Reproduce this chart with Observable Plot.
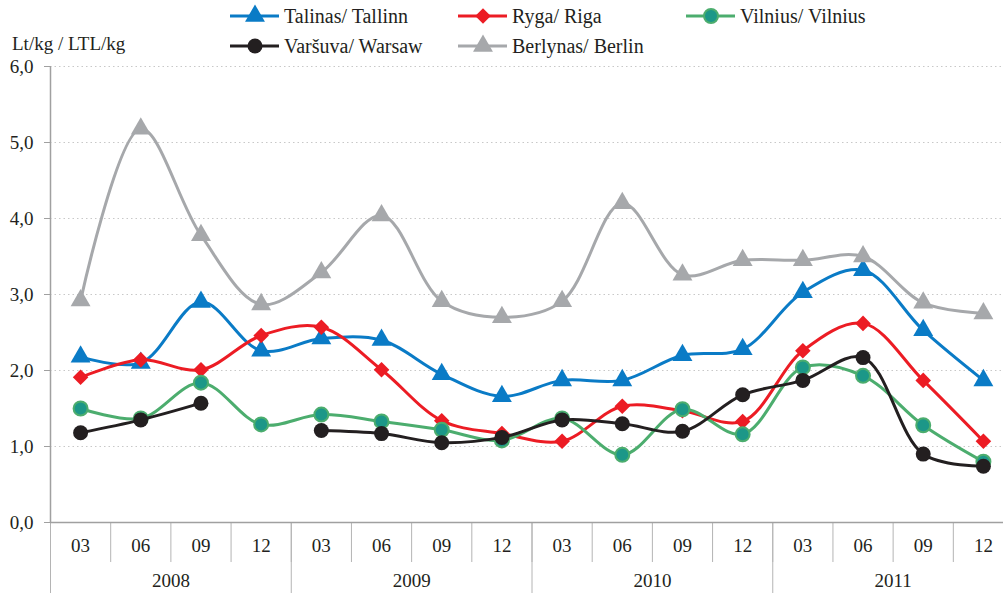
<!DOCTYPE html>
<html>
<head>
<meta charset="utf-8">
<script src="https://cdn.jsdelivr.net/npm/d3@7"></script>
<script src="https://cdn.jsdelivr.net/npm/@observablehq/plot@0.6"></script>
<style>
  html, body { margin: 0; padding: 0; background: #fff; }
  #wrap { position: relative; width: 1003px; height: 593px; overflow: hidden; font-family: "Liberation Serif", "Times New Roman", serif; color: #231f20; }
  #chart { position: absolute; left: 0; top: 0; }
  .ylabel { position: absolute; left: 12px; top: 33px; font-size: 19px; line-height: 22px; white-space: nowrap; }
  .leg { position: absolute; display: flex; align-items: center; font-size: 20px; white-space: nowrap; }
  .leg svg { margin-right: 4px; }
</style>
</head>
<body>
<div id="wrap">
  <div id="chart"></div>
  <div class="ylabel">Lt/kg / LTL/kg</div>
  <div id="legend"></div>
</div>
<script>
// ---- data ----
const months = ["03", "06", "09", "12", "03", "06", "09", "12", "03", "06", "09", "12", "03", "06", "09", "12"];
const years = ["2008", "2009", "2010", "2011"];
const seriesNames = ["Talinas/ Tallinn", "Ryga/ Riga", "Vilnius/ Vilnius", "Varšuva/ Warsaw", "Berlynas/ Berlin"];
const tallinn = [2.18, 2.10, 2.90, 2.26, 2.42, 2.40, 1.95, 1.66, 1.87, 1.87, 2.20, 2.28, 3.03, 3.32, 2.53, 1.87];
const riga    = [1.91, 2.14, 2.01, 2.46, 2.57, 2.01, 1.34, 1.17, 1.07, 1.53, 1.47, 1.33, 2.26, 2.62, 1.87, 1.07];
const vilnius = [1.50, 1.37, 1.84, 1.29, 1.42, 1.33, 1.22, 1.08, 1.37, 0.89, 1.49, 1.16, 2.04, 1.93, 1.28, 0.80];
const warsaw  = [1.18, 1.35, 1.57, null, 1.21, 1.17, 1.05, 1.12, 1.35, 1.30, 1.20, 1.68, 1.87, 2.17, 0.90, 0.74];
const berlin  = [2.92, 5.18, 3.78, 2.87, 3.29, 4.04, 2.91, 2.70, 2.91, 4.20, 3.26, 3.45, 3.45, 3.50, 2.89, 2.75];
const yTicks = [0, 1, 2, 3, 4, 5, 6];

// ---- styles ----
const FONT = '"Liberation Serif", "Times New Roman", serif';
const styles = [
  {name: seriesNames[0], values: tallinn, stroke: "#0a7bc6", fill: "#0a7bc6", symbol: "triangle", r: 7.4, mstroke: "none"},
  {name: seriesNames[1], values: riga,    stroke: "#ec1c24", fill: "#ec1c24", symbol: "diamond2", r: 7.0, mstroke: "none"},
  {name: seriesNames[2], values: vilnius, stroke: "#4cad6e", fill: "#1c9788", symbol: "circle", r: 7.0, mstroke: "#4cad6e"},
  {name: seriesNames[3], values: warsaw,  stroke: "#231f20", fill: "#231f20", symbol: "circle", r: 7.5, mstroke: "none"},
  {name: seriesNames[4], values: berlin,  stroke: "#a6a8ab", fill: "#a6a8ab", symbol: "triangle", r: 7.4, mstroke: "none"}
];

const idx = months.map((_, i) => i);
const monthBounds = d3.range(-0.5, months.length, 1);
const yearBounds = years.map((_, k) => k * 4 - 0.5).concat([years.length * 4 - 0.5]);
const yearCenters = years.map((_, k) => k * 4 + 1.5);

const seriesMarks = [];
for (const s of styles) {
  const rows = s.values.map((v, i) => ({i, v}));
  seriesMarks.push(Plot.line(rows, {x: "i", y: "v", stroke: s.stroke, strokeWidth: 3, curve: "catmull-rom"}));
  seriesMarks.push(Plot.dot(rows.filter(d => d.v != null), {x: "i", y: "v", symbol: s.symbol, r: s.r, fill: s.fill, stroke: s.mstroke, strokeWidth: 2}));
}

const chart = Plot.plot({
  width: 1003,
  height: 593,
  marginTop: 66,
  marginBottom: 71,
  marginLeft: 50,
  marginRight: 0,
  style: {fontFamily: FONT, fontSize: "19px", color: "#231f20", background: "transparent"},
  x: {type: "linear", domain: [-0.5, months.length - 0.5], range: [50, 1013], axis: null},
  y: {domain: [0, 6], axis: null},
  marks: [
    Plot.gridY(yTicks.filter(t => t > 0), {stroke: "#c8c8c8", strokeOpacity: 1, strokeDasharray: "1.5,3", strokeWidth: 1}),
    Plot.axisY(yTicks, {tickFormat: d => d.toFixed(1).replace(".", ","), tickSize: 6, tickPadding: 11, stroke: "#a0a0a0", fontSize: 19, label: null}),
    Plot.ruleX([-0.5], {y1: 0, y2: 6, stroke: "#a0a0a0", strokeWidth: 1.5}),
    Plot.axisX(monthBounds, {tickSize: 40, tickFormat: () => "", stroke: "#b4b4b4", label: null}),
    Plot.axisX(yearBounds, {tickSize: 71, tickFormat: () => "", stroke: "#b4b4b4", label: null}),
    Plot.axisX(idx, {tickSize: 0, tickPadding: 16, tickFormat: i => months[i], fontSize: 19, label: null}),
    Plot.axisX(yearCenters, {tickSize: 0, tickPadding: 51, tickFormat: c => years[Math.round((c - 1.5) / 4)], fontSize: 19, label: null}),
    Plot.ruleY([0], {stroke: "#a0a0a0", strokeWidth: 1.5}),
    ...seriesMarks
  ]
});
document.getElementById("chart").appendChild(chart);

// ---- legend ----
const legendPos = [
  {left: 230, top: 16}, {left: 458, top: 16}, {left: 686, top: 16},
  {left: 230, top: 46}, {left: 458, top: 46}
];
const legend = document.getElementById("legend");
styles.forEach((s, k) => {
  const p = legendPos[k];
  const div = document.createElement("div");
  div.className = "leg";
  div.style.left = p.left + "px";
  div.style.top = (p.top - 12) + "px";
  div.style.height = "24px";
  const sym = {triangle: d3.symbolTriangle, diamond2: d3.symbolDiamond2, circle: d3.symbolCircle}[s.symbol];
  const path = d3.symbol(sym, Math.PI * s.r * s.r)();
  div.innerHTML = `<svg width="50" height="24"><line x1="0" x2="49" y1="12" y2="12" stroke="${s.stroke}" stroke-width="3"/>` +
    `<path d="${path}" transform="translate(25,12)" fill="${s.fill}" stroke="${s.mstroke}" stroke-width="2"/></svg><span>${s.name}</span>`;
  legend.appendChild(div);
});
</script>
</body>
</html>
